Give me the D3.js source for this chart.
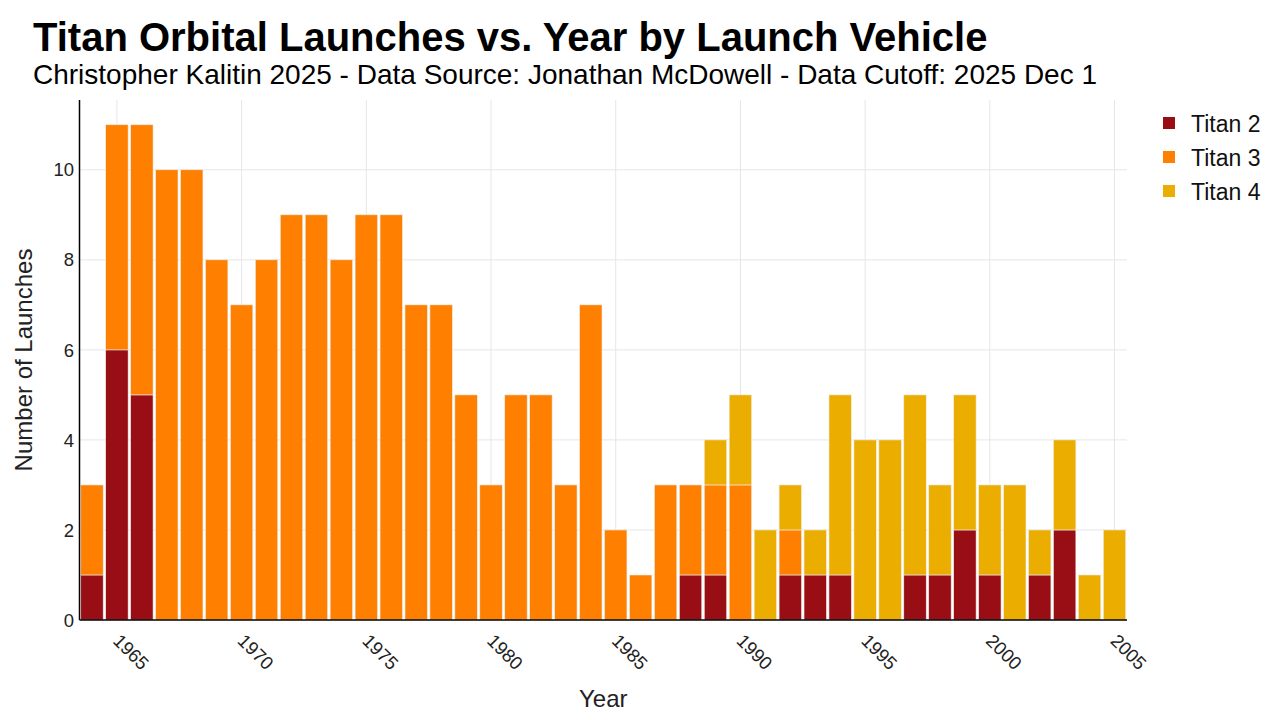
<!DOCTYPE html>
<html>
<head>
<meta charset="utf-8">
<script src="https://cdn.jsdelivr.net/npm/d3@7"></script>
<style>
  body { margin: 0; background: #fff; }
  text { font-family: "Liberation Sans", Arial, sans-serif; }
</style>
</head>
<body>
<div id="chart"></div>
<script>
// launches per year
const years = d3.range(1964, 2006);
const titan2 = [1, 6, 5, 0, 0, 0, 0, 0, 0, 0, 0, 0, 0, 0, 0, 0, 0, 0, 0, 0, 0, 0, 0, 0,
  1, 1, 0, 0, 1, 1, 1, 0, 0, 1, 1, 2, 1, 0, 1, 2, 0, 0];
const titan3 = [2, 5, 6, 10, 10, 8, 7, 8, 9, 9, 8, 9, 9, 7, 7, 5, 3, 5, 5, 3, 7, 2, 1, 3,
  2, 2, 3, 0, 1, 0, 0, 0, 0, 0, 0, 0, 0, 0, 0, 0, 0, 0];
const titan4 = [0, 0, 0, 0, 0, 0, 0, 0, 0, 0, 0, 0, 0, 0, 0, 0, 0, 0, 0, 0, 0, 0, 0, 0,
  0, 1, 2, 2, 1, 1, 4, 4, 4, 4, 2, 3, 2, 3, 1, 2, 1, 2];
const seriesNames = ['Titan 2', 'Titan 3', 'Titan 4'];
const seriesColors = ['#980e14', '#ff8000', '#ebae00'];
const xTicks = [1965, 1970, 1975, 1980, 1985, 1990, 1995, 2000, 2005];
const yTicks = [0, 2, 4, 6, 8, 10];

const width = 1280;
const height = 720;
const margin = { top: 100, right: 153, bottom: 100, left: 79.5 };

const svg = d3.select('#chart').append('svg')
  .attr('width', width)
  .attr('height', height);

// build rows for the stack
const rows = years.map((y, i) => ({
  year: y,
  'Titan 2': titan2[i],
  'Titan 3': titan3[i],
  'Titan 4': titan4[i],
}));
const stacked = d3.stack().keys(seriesNames)(rows);

const x = d3.scaleLinear()
  .domain([1963.5, 2005.5])
  .range([margin.left, width - margin.right]);

const maxTotal = d3.max(rows, d => d['Titan 2'] + d['Titan 3'] + d['Titan 4']);
const y = d3.scaleLinear()
  .domain([0, maxTotal * 1.05])
  .range([height - margin.bottom, margin.top]);

const color = d3.scaleOrdinal().domain(seriesNames).range(seriesColors);

// grid
svg.append('g')
  .selectAll('line')
  .data(xTicks)
  .join('line')
  .attr('x1', d => x(d))
  .attr('x2', d => x(d))
  .attr('y1', y.range()[0])
  .attr('y2', y.range()[1])
  .attr('stroke', '#e6e6e6')
  .attr('stroke-width', 1);

svg.append('g')
  .selectAll('line')
  .data(yTicks.slice(1))
  .join('line')
  .attr('x1', x.range()[0])
  .attr('x2', x.range()[1])
  .attr('y1', d => y(d))
  .attr('y2', d => y(d))
  .attr('stroke', '#e6e6e6')
  .attr('stroke-width', 1);

// bars
const barW = (x(1) - x(0)) * 0.9;
svg.append('g')
  .selectAll('g')
  .data(stacked)
  .join('g')
  .attr('fill', d => color(d.key))
  .selectAll('rect')
  .data(d => d.filter(s => s[1] - s[0] > 0))
  .join('rect')
  .attr('x', d => x(d.data.year) - barW / 2)
  .attr('width', barW)
  .attr('y', d => y(d[1]))
  .attr('height', d => y(d[0]) - y(d[1]))
  .attr('stroke', '#eeeeee')
  .attr('stroke-width', 0.6);

// axes lines
svg.append('line')
  .attr('x1', x.range()[0]).attr('x2', x.range()[0])
  .attr('y1', y.range()[0]).attr('y2', y.range()[1])
  .attr('stroke', '#000').attr('stroke-width', 1.5);
svg.append('line')
  .attr('x1', x.range()[0]).attr('x2', x.range()[1])
  .attr('y1', y.range()[0]).attr('y2', y.range()[0])
  .attr('stroke', '#000').attr('stroke-width', 1.5);

// y tick labels
svg.append('g')
  .selectAll('text')
  .data(yTicks)
  .join('text')
  .attr('x', x.range()[0] - 5.5)
  .attr('y', d => y(d))
  .attr('dy', '0.36em')
  .attr('text-anchor', 'end')
  .attr('font-size', 18.5)
  .attr('fill', '#222')
  .text(d => d);

// x tick labels, rotated 45deg
svg.append('g')
  .selectAll('text')
  .data(xTicks)
  .join('text')
  .attr('transform', d => `translate(${x(d) - 5},${y.range()[0] + 22}) rotate(45)`)
  .attr('text-anchor', 'start')
  .attr('font-size', 18.5)
  .attr('fill', '#222')
  .text(d => d);

// axis titles
svg.append('text')
  .attr('x', (x.range()[0] + x.range()[1]) / 2)
  .attr('y', 707)
  .attr('text-anchor', 'middle')
  .attr('font-size', 24)
  .attr('fill', '#222')
  .text('Year');

svg.append('text')
  .attr('transform', `translate(32,${(y.range()[0] + y.range()[1]) / 2}) rotate(-90)`)
  .attr('text-anchor', 'middle')
  .attr('font-size', 24)
  .attr('fill', '#222')
  .text('Number of Launches');

// title + subtitle
svg.append('text')
  .attr('x', 33)
  .attr('y', 51)
  .attr('font-size', 40)
  .attr('font-weight', 'bold')
  .attr('fill', '#000')
  .text('Titan Orbital Launches vs. Year by Launch Vehicle');

svg.append('text')
  .attr('x', 33)
  .attr('y', 84)
  .attr('font-size', 28)
  .attr('fill', '#000')
  .text('Christopher Kalitin 2025 - Data Source: Jonathan McDowell - Data Cutoff: 2025 Dec 1');

// legend
const legend = svg.append('g')
  .selectAll('g')
  .data(seriesNames)
  .join('g')
  .attr('transform', (d, i) => `translate(1163,${123 + i * 34})`);

legend.append('rect')
  .attr('x', 0)
  .attr('y', -6)
  .attr('width', 12)
  .attr('height', 12)
  .attr('fill', d => color(d));

legend.append('text')
  .attr('x', 28)
  .attr('y', 1)
  .attr('dy', '0.35em')
  .attr('font-size', 23)
  .attr('fill', '#111')
  .text(d => d);
</script>
</body>
</html>
